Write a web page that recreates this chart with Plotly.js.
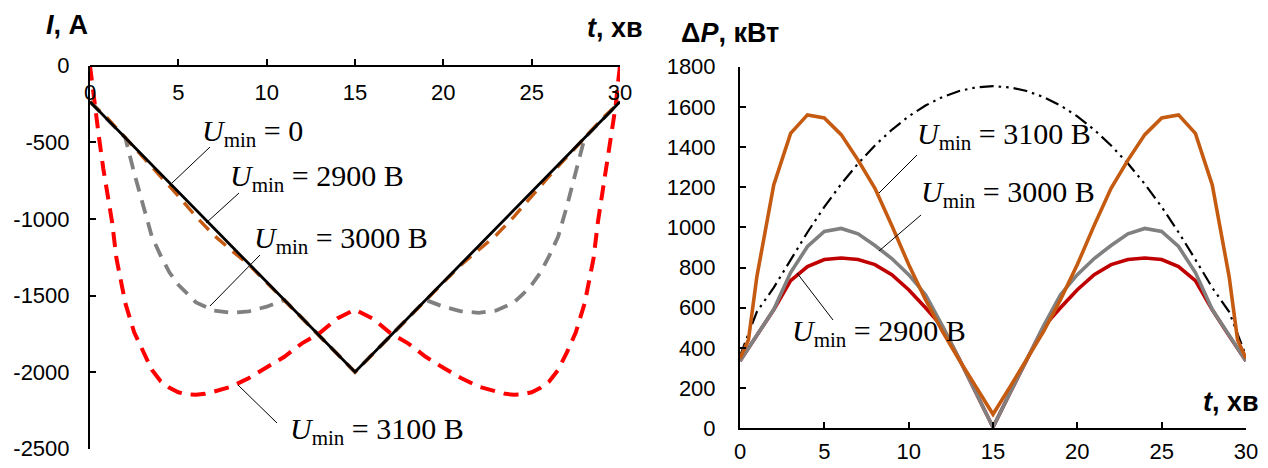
<!DOCTYPE html>
<html>
<head>
<meta charset="utf-8">
<script src="https://cdn.plot.ly/plotly-3.0.1.min.js"></script>
<style>
  html, body { margin: 0; padding: 0; background: #fff; }
  #chart { width: 1268px; height: 468px; }
</style>
</head>
<body>
<div id="chart"></div>
<script>
// ---- Current I(t), A ----
const tCurZero = [0, 15, 30];
const iCurZero = [-235, -2000, -235];

const tCur2900 = [0,1,2,3,4,5,6,7,8,9,10,11,12,13,14,15,16,17,18,19,20,21,22,23,24,25,26,27,28,29,30];
const iCur2900 = [-235,-345,-470,-595,-720,-850,-985,-1105,-1205,-1300,-1415,-1530,-1648,-1765,-1882,-2000,
                  -1882,-1765,-1648,-1530,-1415,-1300,-1205,-1105,-985,-850,-720,-595,-470,-345,-235];

const tCur3000 = [0,1,2,2.5,3,3.5,4,4.5,5,5.5,6,7,8,9,10,11,12,13,14,15,16,17,18,19,20,21,22,23,24,24.5,25,25.5,26,26.5,27,27.5,28,29,30];
const iCur3000 = [-235,-353,-470,-700,-915,-1115,-1240,-1350,-1430,-1492,-1545,-1598,-1613,-1603,-1573,-1529,-1647,-1765,-1882,-2000,
                  -1882,-1765,-1647,-1529,-1573,-1603,-1613,-1598,-1545,-1492,-1430,-1350,-1240,-1115,-915,-700,-470,-353,-235];

const tCur3100 = [0,0.1,0.25,0.5,0.75,1,1.25,1.5,1.75,2,2.5,3,3.5,4,4.5,5,5.5,6,6.5,7,8,9,10,11,12,13,14,15,
                  16,17,18,19,20,21,22,23,23.5,24,24.5,25,25.5,26,26.5,27,27.5,28,28.25,28.5,28.75,29,29.25,29.5,29.75,29.9,30];
const iCur3100 = [0,-100,-265,-460,-670,-830,-1020,-1260,-1420,-1550,-1740,-1870,-1985,-2060,-2103,-2132,-2145,-2148,-2142,-2128,-2095,-2038,-1972,-1900,-1812,-1745,-1650,-1592,
                  -1650,-1745,-1812,-1900,-1972,-2038,-2095,-2128,-2142,-2148,-2145,-2132,-2103,-2060,-1985,-1870,-1740,-1550,-1420,-1260,-1020,-830,-670,-460,-265,-100,0];

// ---- Power losses ΔP(t), kW ----
const tLoss = [0,1,2,3,4,5,6,7,8,9,10,11,12,13,14,15,16,17,18,19,20,21,22,23,24,25,26,27,28,29,30];
const pLossZero = [360,580,700,840,976,1102,1216,1318,1408,1486,1553,1607,1649,1679,1697,1703,
                   1697,1679,1649,1607,1553,1486,1408,1318,1216,1102,976,840,700,580,360];
const pLoss2900 = [335,460,590,735,805,840,848,840,815,765,690,600,505,345,175,5,
                   175,345,505,600,690,765,815,840,848,840,805,735,590,460,335];
const pLoss3000 = [335,463,591,775,905,980,995,968,910,845,765,665,510,345,175,5,
                   175,345,510,665,765,845,910,968,995,980,905,775,591,463,335];
const tLoss3100 = [0,0.5,1,2,3,4,5,6,7,8,9,10,11,12,13,14,15,16,17,18,19,20,21,22,23,24,25,26,27,28,29,29.5,30];
const pLoss3100 = [348,440,755,1211,1468,1560,1545,1462,1335,1195,1010,815,640,482,340,205,70,
                   205,340,482,640,815,1010,1195,1335,1462,1545,1560,1468,1211,755,440,348];

// ---- Axis ticks ----
const tTicks = [0,5,10,15,20,25,30];
const iTickVals = [0,-500,-1000,-1500,-2000,-2500];
const iTickText = ['0','-500','-1000','-1500','-2000','-2500'];
const pTicks = [0,200,400,600,800,1000,1200,1400,1600,1800];

// ---- Page geometry helpers (pixel -> paper fraction) ----
const W = 1268, H = 468;
const fx = x => x / W;
const fy = y => 1 - y / H;

const tickFont = {family: 'Liberation Sans, Arial, sans-serif', size: 22, color: '#000'};
const labelFont = {family: 'Liberation Serif, Times New Roman, serif', size: 30, color: '#000'};
const headFont = {family: 'Liberation Sans, Arial, sans-serif', size: 27, color: '#000'};

const dashA = '14px,9px';

const traces = [
  // left panel: current
  {x: tCur3000, y: iCur3000, xaxis: 'x', yaxis: 'y', mode: 'lines',
   line: {color: '#808080', width: 3.8, dash: dashA}},
  {x: tCur3100, y: iCur3100, xaxis: 'x', yaxis: 'y', mode: 'lines',
   line: {color: '#FF0000', width: 4, dash: '15px,9px'}},
  {x: tCur2900, y: iCur2900, xaxis: 'x', yaxis: 'y', mode: 'lines',
   line: {color: '#C55A11', width: 3.4, dash: dashA}},
  {x: tCurZero, y: iCurZero, xaxis: 'x', yaxis: 'y', mode: 'lines',
   line: {color: '#000000', width: 2.8}},
  // right panel: losses
  {x: tLoss, y: pLossZero, xaxis: 'x2', yaxis: 'y2', mode: 'lines',
   line: {color: '#000000', width: 2.2, dash: '14px,5px,2.5px,5px,2.5px,5px'}},
  {x: tLoss, y: pLoss2900, xaxis: 'x2', yaxis: 'y2', mode: 'lines',
   line: {color: '#C00000', width: 3.6}},
  {x: tLoss, y: pLoss3000, xaxis: 'x2', yaxis: 'y2', mode: 'lines',
   line: {color: '#808080', width: 3.6}},
  {x: tLoss3100, y: pLoss3100, xaxis: 'x2', yaxis: 'y2', mode: 'lines',
   line: {color: '#C55A11', width: 3.6}}
];
traces.forEach(t => { t.showlegend = false; t.hoverinfo = 'skip'; });

const baseAxis = {
  showgrid: false, zeroline: false, fixedrange: true,
  tickfont: tickFont, tickcolor: '#000', tickwidth: 2, ticklen: 6,
  linecolor: '#000', linewidth: 2
};

const leftX = [fx(90), fx(620)];
const leftY = [fy(448.7), fy(65.7)];
const rightX = [fx(740), fx(1246)];
const rightY = [fy(428.3), fy(66.7)];

// Each axis carries its labels with inner ticks; a companion overlay axis adds the outer half of the tick.
const layout = {
  width: W, height: H,
  margin: {l: 0, r: 0, t: 0, b: 0},
  paper_bgcolor: '#fff', plot_bgcolor: 'rgba(0,0,0,0)',
  showlegend: false,
  // left panel: x axis sits on the I = 0 line with labels below it
  xaxis: Object.assign({}, baseAxis, {
    domain: leftX, range: [0, 30], anchor: 'free', position: leftY[1], side: 'bottom',
    showline: true, ticks: 'inside', tickmode: 'array', tickvals: tTicks, ticklabelstandoff: 7
  }),
  xaxis3: Object.assign({}, baseAxis, {
    overlaying: 'x', range: [0, 30], anchor: 'free', position: leftY[1], side: 'bottom',
    showline: false, ticks: 'outside', tickmode: 'array', tickvals: tTicks, showticklabels: false
  }),
  yaxis: Object.assign({}, baseAxis, {
    domain: leftY, range: [-2500, 0], anchor: 'x', side: 'left',
    showline: true, ticks: 'inside', tickmode: 'array', tickvals: iTickVals, ticktext: iTickText,
    ticklabelstandoff: 14
  }),
  yaxis3: Object.assign({}, baseAxis, {
    overlaying: 'y', range: [-2500, 0], anchor: 'x', side: 'left',
    showline: false, ticks: 'outside', tickmode: 'array', tickvals: iTickVals, showticklabels: false
  }),
  // right panel
  xaxis2: Object.assign({}, baseAxis, {
    domain: rightX, range: [0, 30], anchor: 'y2', side: 'bottom',
    showline: true, ticks: 'inside', tickmode: 'array', tickvals: tTicks, ticklabelstandoff: 2
  }),
  xaxis4: Object.assign({}, baseAxis, {
    overlaying: 'x2', range: [0, 30], anchor: 'y2', side: 'bottom',
    showline: false, ticks: 'outside', tickmode: 'array', tickvals: tTicks, showticklabels: false
  }),
  yaxis2: Object.assign({}, baseAxis, {
    domain: rightY, range: [0, 1800], anchor: 'x2', side: 'left',
    showline: true, ticks: 'inside', tickmode: 'array', tickvals: pTicks, ticklabelstandoff: 18
  }),
  yaxis4: Object.assign({}, baseAxis, {
    overlaying: 'y2', range: [0, 1800], anchor: 'x2', side: 'left',
    showline: false, ticks: 'outside', tickmode: 'array', tickvals: pTicks, showticklabels: false
  }),
  annotations: [
    // axis headings
    {text: '<b><i>I</i>, А</b>', x: fx(44), y: fy(25), xanchor: 'left', yanchor: 'middle', font: headFont},
    {text: '<b><i>t</i>, хв</b>', x: fx(645), y: fy(28), xanchor: 'right', yanchor: 'middle', font: headFont},
    {text: '<b>Δ<i>P</i>, кВт</b>', x: fx(679), y: fy(33), xanchor: 'left', yanchor: 'middle', font: headFont},
    {text: '<b><i>t</i>, хв</b>', x: fx(1261), y: fy(402), xanchor: 'right', yanchor: 'middle', font: headFont},
    // curve labels, left panel
    {text: '<i>U</i><sub>min</sub> = 0', x: fx(200), y: fy(133), xanchor: 'left', yanchor: 'middle', font: labelFont},
    {text: '<i>U</i><sub>min</sub> = 2900 В', x: fx(228), y: fy(178), xanchor: 'left', yanchor: 'middle', font: labelFont},
    {text: '<i>U</i><sub>min</sub> = 3000 В', x: fx(252), y: fy(240), xanchor: 'left', yanchor: 'middle', font: labelFont},
    {text: '<i>U</i><sub>min</sub> = 3100 В', x: fx(288), y: fy(431), xanchor: 'left', yanchor: 'middle', font: labelFont},
    // curve labels, right panel
    {text: '<i>U</i><sub>min</sub> = 3100 В', x: fx(915), y: fy(136), xanchor: 'left', yanchor: 'middle', font: labelFont},
    {text: '<i>U</i><sub>min</sub> = 3000 В', x: fx(919), y: fy(194), xanchor: 'left', yanchor: 'middle', font: labelFont},
    {text: '<i>U</i><sub>min</sub> = 2900 В', x: fx(790), y: fy(333), xanchor: 'left', yanchor: 'middle', font: labelFont}
  ].map(a => Object.assign({xref: 'paper', yref: 'paper', showarrow: false}, a)),
  // leader lines from the labels to their curves
  shapes: [
    [210, 147, 172, 183],
    [239, 193, 206, 223],
    [260, 255, 210, 306],
    [238, 385, 277, 423],
    [917, 155, 879, 193],
    [921, 215, 879, 251],
    [797, 273, 833, 320]
  ].map(s => ({type: 'line', xref: 'paper', yref: 'paper',
               x0: fx(s[0]), y0: fy(s[1]), x1: fx(s[2]), y1: fy(s[3]),
               line: {color: '#000', width: 1}}))
};

Plotly.newPlot('chart', traces, layout, {staticPlot: true, displayModeBar: false});
</script>
</body>
</html>
